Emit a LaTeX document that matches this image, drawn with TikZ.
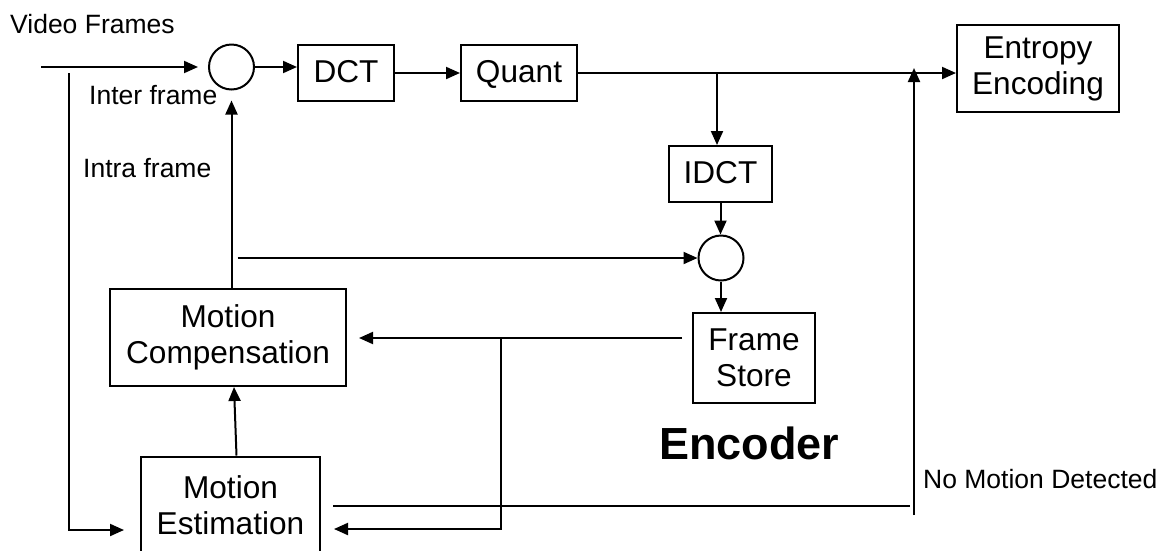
\documentclass[tikz,border=0pt]{standalone}
\usepackage{fontspec}
\setmainfont{Liberation Sans}
\usetikzlibrary{arrows.meta,calc}
\newcommand{\boxfnt}{\fontsize{31.6}{36}\selectfont}
\newcommand{\lblfnt}{\fontsize{26.5}{30}\selectfont}
\newcommand{\encfnt}{\fontsize{45}{50}\selectfont\bfseries}
\tikzset{
  box/.style={draw, line width=2pt, font=\boxfnt, align=center, inner sep=0pt},
  onel/.style={text height=22pt, text depth=4pt},
  sum/.style={draw, circle, line width=2pt, minimum size=45pt, inner sep=0pt},
  arr/.style={line width=2pt, -{Triangle[length=14pt,width=12pt]}},
  ln/.style={line width=2pt},
  lbl/.style={font=\lblfnt, inner sep=0pt, anchor=base west},
}
\begin{document}
\begin{tikzpicture}[x=1pt,y=-1pt]
\useasboundingbox (0,0) rectangle (1167,550);
\clip (0,0) rectangle (1167,550);
% blocks
\node[box, onel, minimum width=96pt, minimum height=56pt] (dct) at (346,73) {DCT};
\node[box, onel, minimum width=116pt, minimum height=56pt] (quant) at (519,73) {Quant};
\node[box, minimum width=162pt, minimum height=87pt] (ent) at (1038,68.5) {Entropy\\Encoding};
\node[box, onel, minimum width=103pt, minimum height=56pt] (idct) at (720.5,174) {IDCT};
\node[box, minimum width=122pt, minimum height=90pt] (fs) at (754,358) {Frame\\Store};
\node[box, minimum width=236pt, minimum height=97pt] (mc) at (228,337.5) {Motion\\Compensation};
\node[box, minimum width=179pt, minimum height=97pt] (me) at (230.5,505) {Motion\\Estimation};
\node[sum] (s1) at (231.5,67) {};
\node[sum] (s2) at (721,258) {};
% labels
\node[lbl] (vf) at (10,33) {Video Frames};
\node[lbl] (inter) at (89,104) {Inter frame};
\node[lbl] (intra) at (83,177) {Intra frame};
\node[lbl] (nmd) at (923,488) {No Motion Detected};
\node[font=\encfnt, inner sep=0pt, anchor=base west] (encl) at (659,459) {Encoder};
% coordinates
\coordinate (in) at (41,67);
\coordinate (vtop) at (69,73);
\coordinate (j1) at (717,73);
\coordinate (fsout) at (682,338);
\coordinate (j2) at (501,338);
\coordinate (nm1) at (333,506);
\coordinate (nm2) at (910,506);
\coordinate (nmb) at (914,515);
\coordinate (nmt) at (914,68);
% connectors
\draw[arr, shorten >=10pt] (in) -- (s1.west);
\draw[arr] (s1.east) -- (s1.east -| dct.west);
\draw[arr] (dct.east) -- (quant.west);
\draw[arr] (quant.east) -- (quant.east -| ent.west);
\draw[arr] (j1) -- (j1 |- idct.north);
\draw[arr] (idct.south) -- (idct.south |- s2.north);
\draw[arr] (s2.south) -- (s2.south |- fs.north);
\draw[arr, shorten >=10pt] (mc.north -| s1.south) -- (s1.south);
\draw[arr, shorten <=6pt] (s1 |- s2) -- (s2.west);
\draw[arr] ([xshift=6pt]me.north) -- ([xshift=6pt]mc.south);
\draw[arr, shorten >=12pt] (fsout) -- (fsout -| mc.east);
\draw[arr, shorten >=13pt] (j2) |- ($(me.east)+(0,24)$);
\draw[arr, shorten >=16pt] (vtop) |- ($(me.west)+(0,25)$);
\draw[ln] (nm1) -- (nm2);
\draw[arr] (nmb) -- (nmt);
\end{tikzpicture}
\end{document}
